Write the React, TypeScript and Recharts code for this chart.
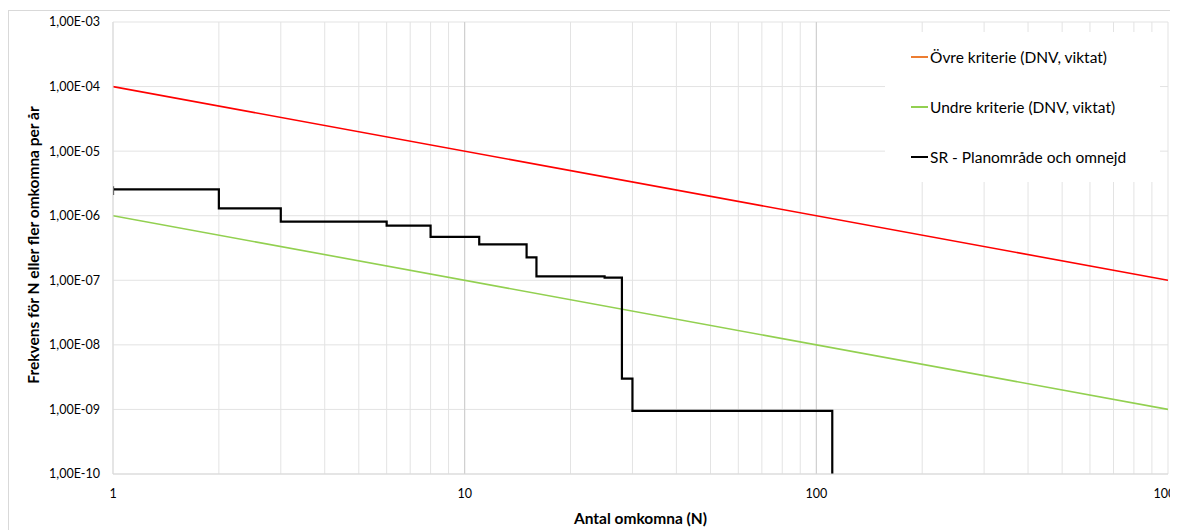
import {
  CartesianGrid,
  Legend,
  Line,
  LineChart,
  ReferenceLine,
  XAxis,
  YAxis
} from "recharts";

const upperCriterion = [
  { n: 1, f: 1e-4 },
  { n: 1000, f: 1e-7 }
];

const lowerCriterion = [
  { n: 1, f: 1e-6 },
  { n: 1000, f: 1e-9 }
];

// FN-kurva, stegvis (N, frekvens)
const srPlanArea = [
  { n: 1, f: 2.85e-6 },
  { n: 1, f: 2.1e-6 },
  { n: 1, f: 2.56e-6 },
  { n: 2, f: 1.3e-6 },
  { n: 3, f: 8.1e-7 },
  { n: 6, f: 7.0e-7 },
  { n: 8, f: 4.7e-7 },
  { n: 11, f: 3.6e-7 },
  { n: 15, f: 2.27e-7 },
  { n: 16, f: 1.15e-7 },
  { n: 25, f: 1.1e-7 },
  { n: 28, f: 3.0e-9 },
  { n: 30, f: 9.5e-10 },
  { n: 111, f: 1e-10 }
];

const xTicks = [
  1, 2, 3, 4, 5, 6, 7, 8, 9, 10, 20, 30, 40, 50, 60, 70, 80, 90, 100, 200,
  300, 400, 500, 600, 700, 800, 900, 1000
];
const xMajorTicks = [1, 10, 100, 1000];
const yTicks = [1e-10, 1e-9, 1e-8, 1e-7, 1e-6, 1e-5, 1e-4, 1e-3];

const legendItems = [
  { name: "Övre kriterie (DNV, viktat)", color: "#ed7d31" },
  { name: "Undre kriterie (DNV, viktat)", color: "#92d050" },
  { name: "SR - Planområde och omnejd", color: "#000000" }
];

const font = "Lato, Carlito, Calibri, 'Open Sans', sans-serif";

function formatY(v: number) {
  const e = Math.round(Math.log10(v));
  return `1,00E-${String(-e).padStart(2, "0")}`;
}

function formatX(v: number) {
  return xMajorTicks.includes(v) ? String(v) : "";
}

function ChartLegend() {
  return (
    <div
      style={{
        background: "#fff",
        width: 275,
        height: 150,
        fontFamily: font,
        fontSize: 15.5,
        color: "#000",
        boxSizing: "border-box",
        paddingLeft: 26,
        paddingTop: 0
      }}
    >
      {legendItems.map((item) => (
        <div
          key={item.name}
          style={{ display: "flex", alignItems: "center", height: 50 }}
        >
          <span
            style={{
              display: "inline-block",
              width: 17,
              height: 2,
              background: item.color,
              marginRight: 2
            }}
          />
          {item.name}
        </div>
      ))}
    </div>
  );
}

function YTitle(props: any) {
  const vb = props.viewBox;
  const x = 24;
  const y = vb.y + vb.height / 2 - 3;
  return (
    <text
      x={x}
      y={y}
      transform={`rotate(-90 ${x} ${y})`}
      textAnchor="middle"
      dominantBaseline="central"
      fontFamily={font}
      fontWeight="bold"
      fontSize={15.5}
      fill="#000"
    >
      Frekvens för N eller fler omkomna per år
    </text>
  );
}

export default function App() {
  return (
    <div
      style={{
        marginTop: 2,
        width: 1170,
        height: 520,
        borderTop: "1px solid #d9d9d9",
        borderLeft: "1px solid #d9d9d9",
        boxSizing: "border-box",
        background: "#fff"
      }}
    >
      <LineChart
        width={1169}
        height={519}
        margin={{ top: 11, right: 10, left: 0, bottom: 0 }}
      >
        <CartesianGrid stroke="#e3e3e3" strokeWidth={1} />
        <XAxis
          type="number"
          dataKey="n"
          scale="log"
          domain={[1, 1000]}
          allowDataOverflow
          ticks={xTicks}
          interval={0}
          tickFormatter={formatX}
          tickLine={false}
          tickSize={0}
          tickMargin={15}
          axisLine={{ stroke: "#d9d9d9" }}
          height={56}
          tick={{ fill: "#000", fontSize: 12.5, fontFamily: font }}
          label={{
            value: "Antal omkomna (N)",
            position: "insideBottom",
            offset: 6,
            fill: "#000",
            fontSize: 15.5,
            fontWeight: "bold",
            fontFamily: font
          }}
        />
        <YAxis
          type="number"
          dataKey="f"
          scale="log"
          domain={[1e-10, 1e-3]}
          allowDataOverflow
          ticks={yTicks}
          interval={0}
          tickFormatter={formatY}
          tickLine={false}
          tickSize={0}
          tickMargin={13}
          axisLine={{ stroke: "#d9d9d9" }}
          width={104}
          tick={{ fill: "#000", fontSize: 12.5, fontFamily: font }}
          label={<YTitle />}
        />
        <ReferenceLine x={10} stroke="#cdcdcd" />
        <ReferenceLine x={100} stroke="#cdcdcd" />
        <Legend
          layout="horizontal"
          align="center"
          verticalAlign="middle"
          wrapperStyle={{ left: 876, top: 21, width: 275, height: 150 }}
          content={() => <ChartLegend />}
        />
        <Line
          data={upperCriterion}
          dataKey="f"
          name="Övre kriterie (DNV, viktat)"
          stroke="#ff0000"
          strokeWidth={1.6}
          dot={false}
          isAnimationActive={false}
        />
        <Line
          data={lowerCriterion}
          dataKey="f"
          name="Undre kriterie (DNV, viktat)"
          stroke="#92d050"
          strokeWidth={1.6}
          dot={false}
          isAnimationActive={false}
        />
        <Line
          data={srPlanArea}
          dataKey="f"
          type="stepAfter"
          name="SR - Planområde och omnejd"
          stroke="#000000"
          strokeWidth={2.2}
          dot={false}
          isAnimationActive={false}
        />
      </LineChart>
    </div>
  );
}
